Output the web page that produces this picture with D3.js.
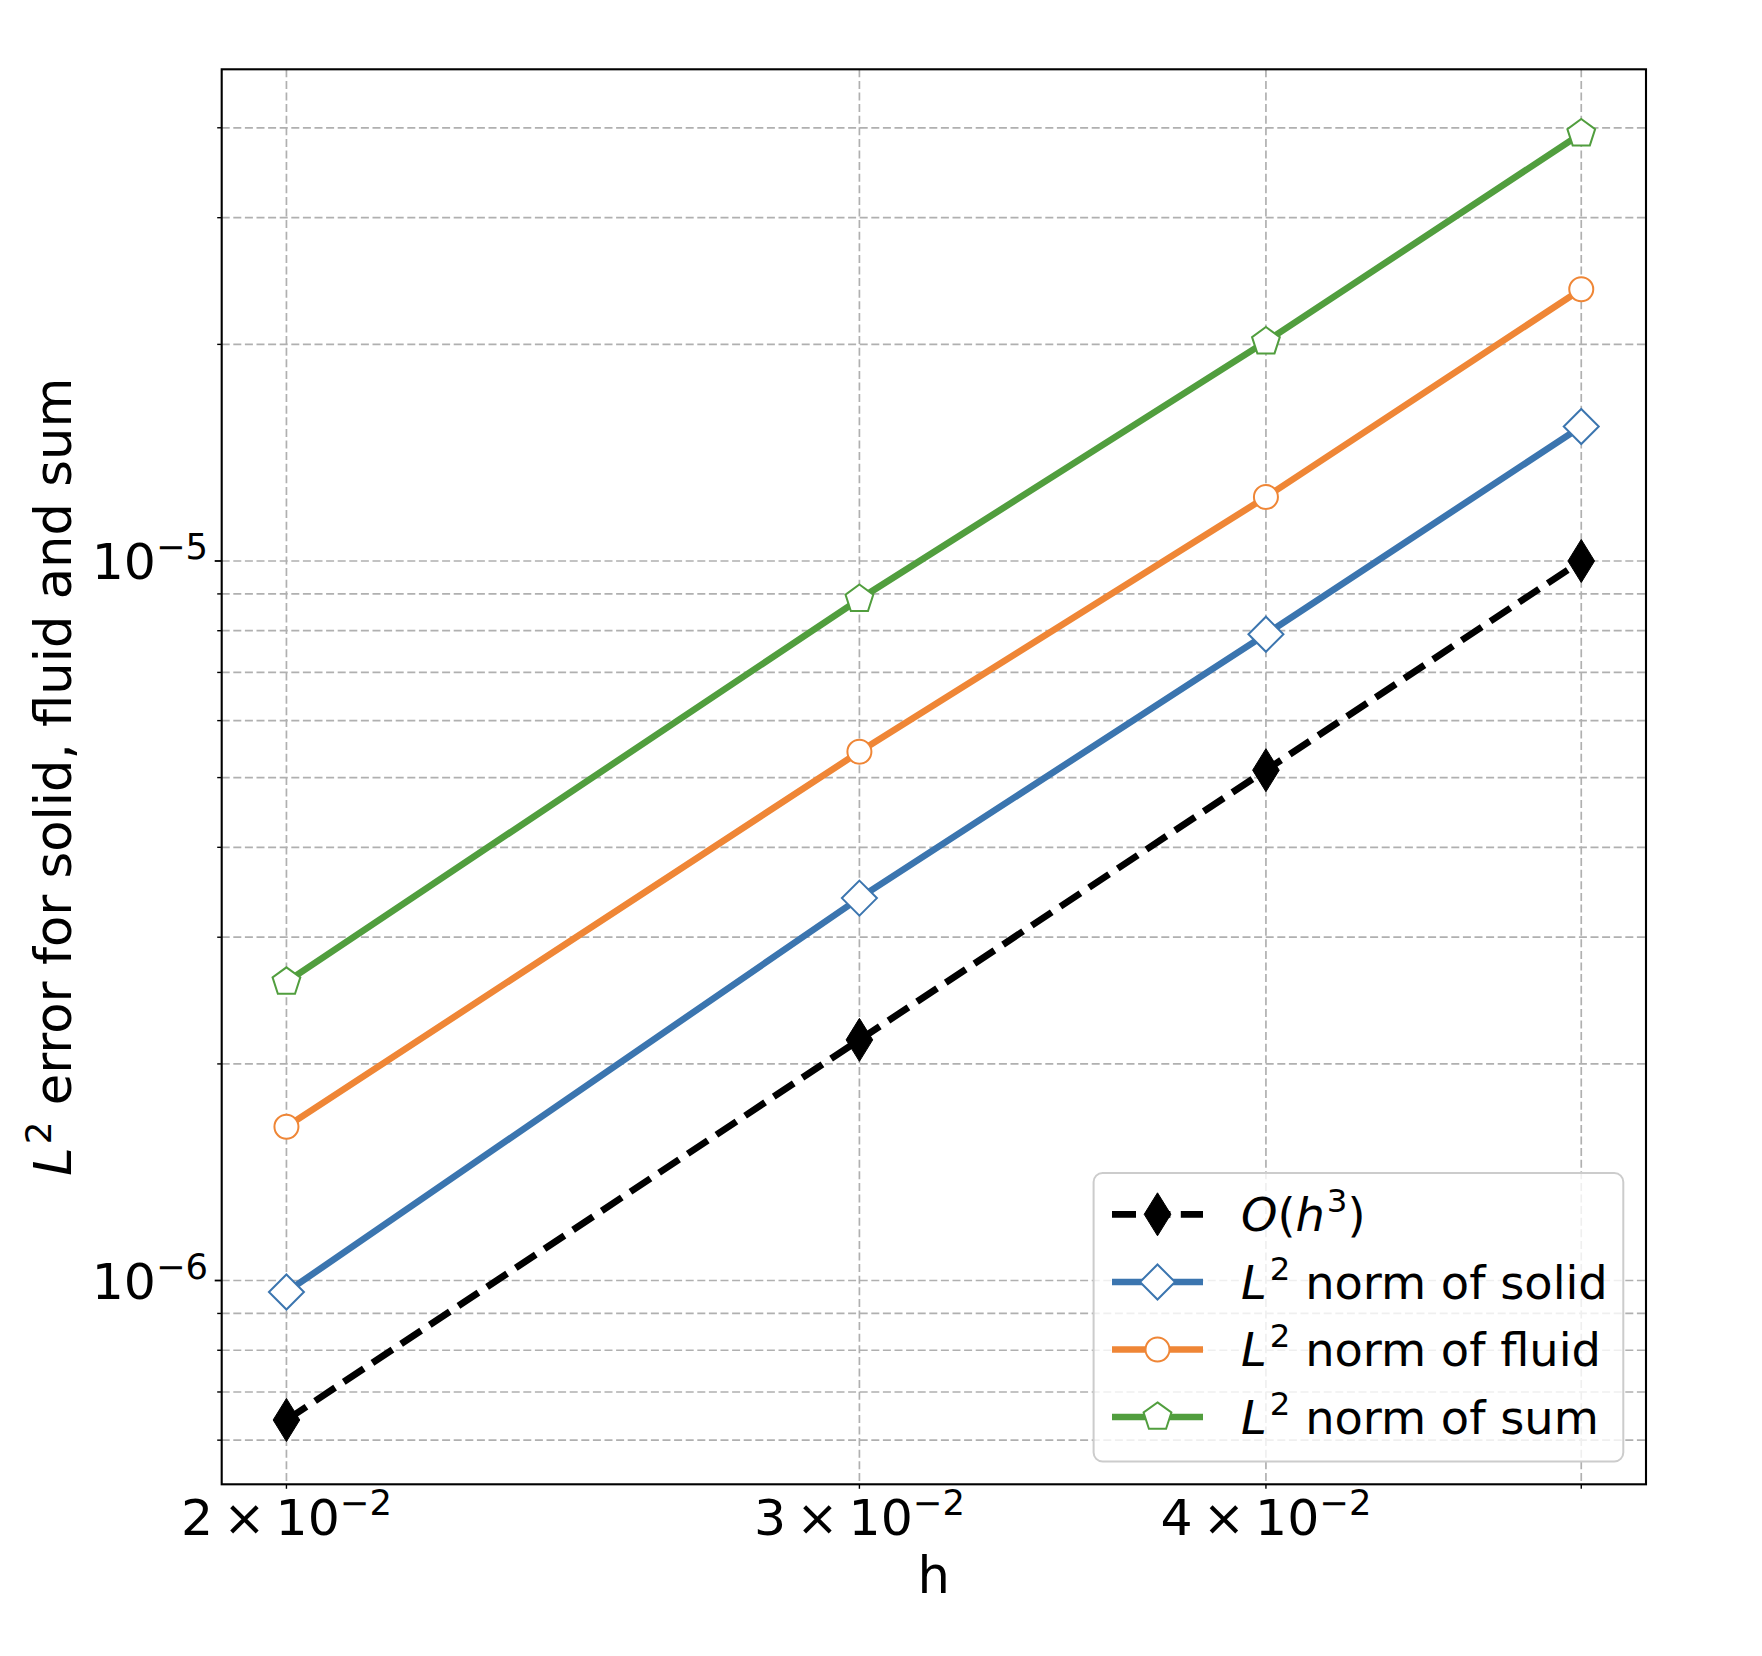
<!DOCTYPE html>
<html>
<head>
<meta charset="utf-8">
<script src="https://cdn.jsdelivr.net/npm/d3@7"></script>
<style>
  html, body { margin: 0; padding: 0; background: #fff; }
  svg { display: block; font-family: "DejaVu Sans", sans-serif; }
</style>
</head>
<body>
<svg id="chart" width="1762" height="1656"></svg>
<script>
// ---- data ----
const hValues   = [0.02, 0.03, 0.04, 0.05];
const refO3     = [6.4e-7, 2.16e-6, 5.12e-6, 1.0e-5];
const solidErr  = [9.64e-7, 3.40e-6, 7.91e-6, 1.538e-5];
const fluidErr  = [1.636e-6, 5.43e-6, 1.227e-5, 2.386e-5];
const sumErr    = [2.60e-6, 8.85e-6, 2.018e-5, 3.926e-5];
const xTickValues = [0.02, 0.03, 0.04, 0.05];
const xTickLabels = ["2", "3", "4", null];
const yMajorExp   = [-6, -5];
const seriesNames = ["O(h3)", "solid", "fluid", "sum"];

// ---- layout ----
const W = 1762, H = 1656;
const plot = { left: 221.7, top: 69.3, right: 1646, bottom: 1484.3 };
const FS = 50.5;      // tick label font size
const AFS = 51.2;     // axis label font size
const LFS = 46.3;     // legend font size

const svg = d3.select("#chart");

// domains with 5% log margins (matplotlib style)
function logPad(lo, hi, frac) {
  const a = Math.log10(lo), b = Math.log10(hi), d = (b - a) * frac;
  return [Math.pow(10, a - d), Math.pow(10, b + d)];
}
const allY = [].concat(refO3, solidErr, fluidErr, sumErr);
const xDom = logPad(d3.min(hValues), d3.max(hValues), 0.05);
const yDom = logPad(d3.min(allY), d3.max(allY), 0.05);

const x = d3.scaleLog().domain(xDom).range([plot.left, plot.right]);
const y = d3.scaleLog().domain(yDom).range([plot.bottom, plot.top]);

// ---- grid ----
const grid = svg.append("g").attr("stroke", "#b0b0b0").attr("stroke-width", 1.7)
  .attr("stroke-dasharray", "8,3.6").attr("fill", "none");
xTickValues.forEach(v => {
  grid.append("line").attr("x1", x(v)).attr("x2", x(v))
    .attr("y1", plot.top).attr("y2", plot.bottom);
});
const yTicksAll = y.ticks(20).filter(v => v >= yDom[0] && v <= yDom[1]);
yTicksAll.forEach(v => {
  grid.append("line").attr("x1", plot.left).attr("x2", plot.right)
    .attr("y1", y(v)).attr("y2", y(v));
});

// ---- series ----
const series = [
  { name: seriesNames[0], values: refO3,    color: "#000000", dash: "24,10.4", marker: "thin_diamond", width: 6.8 },
  { name: seriesNames[1], values: solidErr, color: "#3b75af", dash: null,      marker: "diamond",      width: 6.6 },
  { name: seriesNames[2], values: fluidErr, color: "#ef8636", dash: null,      marker: "circle",       width: 6.6 },
  { name: seriesNames[3], values: sumErr,   color: "#519e3e", dash: null,      marker: "pentagon",     width: 6.6 },
];

function markerPath(type) {
  if (type === "thin_diamond") return "M0,-21.5L13.3,0L0,21.5L-13.3,0Z";
  if (type === "diamond") return "M0,-17.5L17.5,0L0,17.5L-17.5,0Z";
  if (type === "pentagon") {
    const R = 14.6, pts = [];
    for (let i = 0; i < 5; i++) {
      const a = -Math.PI / 2 + i * 2 * Math.PI / 5;
      pts.push([R * Math.cos(a), R * Math.sin(a)]);
    }
    return "M" + pts.map(p => p[0].toFixed(2) + "," + p[1].toFixed(2)).join("L") + "Z";
  }
  return null;
}
function drawMarker(g, s, cx, cy) {
  if (s.marker === "circle") {
    g.append("circle").attr("cx", cx).attr("cy", cy).attr("r", 12)
      .attr("fill", "#fff").attr("stroke", s.color).attr("stroke-width", 2);
  } else if (s.marker === "thin_diamond") {
    g.append("path").attr("d", markerPath(s.marker)).attr("transform", `translate(${cx},${cy})`)
      .attr("fill", s.color).attr("stroke", s.color).attr("stroke-width", 1);
  } else {
    g.append("path").attr("d", markerPath(s.marker)).attr("transform", `translate(${cx},${cy})`)
      .attr("fill", "#fff").attr("stroke", s.color).attr("stroke-width", 2);
  }
}

const line = d3.line().x((d, i) => x(hValues[i])).y(d => y(d));
series.forEach(s => {
  const g = svg.append("g");
  g.append("path").attr("d", line(s.values)).attr("fill", "none")
    .attr("stroke", s.color).attr("stroke-width", s.width)
    .attr("stroke-dasharray", s.dash)
    .attr("stroke-linecap", s.dash ? "butt" : "square")
    .attr("stroke-linejoin", "round");
  s.values.forEach((v, i) => drawMarker(g, s, x(hValues[i]), y(v)));
});

// ---- spines ----
svg.append("rect").attr("x", plot.left).attr("y", plot.top)
  .attr("width", plot.right - plot.left).attr("height", plot.bottom - plot.top)
  .attr("fill", "none").attr("stroke", "#000").attr("stroke-width", 2.1);

// ---- ticks ----
const ticks = svg.append("g").attr("stroke", "#000");
xTickValues.forEach(v => {
  ticks.append("line").attr("x1", x(v)).attr("x2", x(v))
    .attr("y1", plot.bottom).attr("y2", plot.bottom + 4.5).attr("stroke-width", 1.4);
});
yTicksAll.forEach(v => {
  const major = Math.abs(Math.log10(v) - Math.round(Math.log10(v))) < 1e-9;
  ticks.append("line").attr("x1", plot.left).attr("x2", plot.left - (major ? 7 : 4.5))
    .attr("y1", y(v)).attr("y2", y(v)).attr("stroke-width", major ? 1.8 : 1.4);
});

// ---- tick labels ----
xTickValues.forEach((v, i) => {
  if (!xTickLabels[i]) return;
  const t = svg.append("text").attr("x", x(v)).attr("y", 1535)
    .attr("text-anchor", "middle").attr("font-size", FS).attr("fill", "#000");
  t.append("tspan").text(xTickLabels[i] + "\u2009\u00d7\u200910");
  t.append("tspan").attr("dy", -20).attr("font-size", FS * 0.7).text("\u22122");
});
yMajorExp.forEach(e => {
  const v = Math.pow(10, e);
  const t = svg.append("text").attr("x", 208).attr("y", y(v) + 18.3)
    .attr("text-anchor", "end").attr("font-size", FS).attr("fill", "#000");
  t.append("tspan").text("10");
  t.append("tspan").attr("dy", -20).attr("font-size", FS * 0.7).text("\u2212" + Math.abs(e));
});

// ---- axis labels ----
svg.append("text").attr("x", (plot.left + plot.right) / 2).attr("y", 1592.7)
  .attr("text-anchor", "middle").attr("font-size", AFS).text("h");

const yl = svg.append("text").attr("transform", `translate(71,${(plot.top + plot.bottom) / 2}) rotate(-90)`)
  .attr("text-anchor", "middle").attr("font-size", AFS);
yl.append("tspan").attr("font-style", "italic").text("L");
yl.append("tspan").attr("dy", -20.5).attr("dx", 3).attr("font-size", AFS * 0.7).text("2");
yl.append("tspan").attr("dy", 20.5).text(" error for solid, fluid and sum");

// ---- legend ----
const leg = { left: 1093.6, top: 1173, right: 1623.3, bottom: 1461.5 };
svg.append("rect").attr("x", leg.left).attr("y", leg.top)
  .attr("width", leg.right - leg.left).attr("height", leg.bottom - leg.top)
  .attr("rx", 9).attr("ry", 9)
  .attr("fill", "#fff").attr("fill-opacity", 0.8)
  .attr("stroke", "#cccccc").attr("stroke-width", 2);

const rowY = [1214.3, 1282, 1349.5, 1417];
const hx0 = 1112, hx1 = 1203;
series.forEach((s, i) => {
  const g = svg.append("g");
  const cy = rowY[i];
  g.append("line").attr("x1", hx0).attr("x2", hx1).attr("y1", cy).attr("y2", cy)
    .attr("stroke", s.color).attr("stroke-width", s.width)
    .attr("stroke-dasharray", s.dash);
  drawMarker(g, s, (hx0 + hx1) / 2, cy);
  const t = svg.append("text").attr("x", 1241).attr("y", cy + 16.5)
    .attr("font-size", LFS).attr("fill", "#000");
  if (i === 0) {
    t.append("tspan").attr("font-style", "italic").text("O");
    t.append("tspan").text("(");
    t.append("tspan").attr("font-style", "italic").text("h");
    t.append("tspan").attr("dy", -19).attr("dx", 2).attr("font-size", LFS * 0.7).text("3");
    t.append("tspan").attr("dy", 19).text(")");
  } else {
    const word = ["", "solid", "fluid", "sum"][i];
    t.append("tspan").attr("font-style", "italic").text("L");
    t.append("tspan").attr("dy", -19).attr("dx", 3).attr("font-size", LFS * 0.7).text("2");
    t.append("tspan").attr("dy", 19).text(" norm of " + word);
  }
});
</script>
</body>
</html>
